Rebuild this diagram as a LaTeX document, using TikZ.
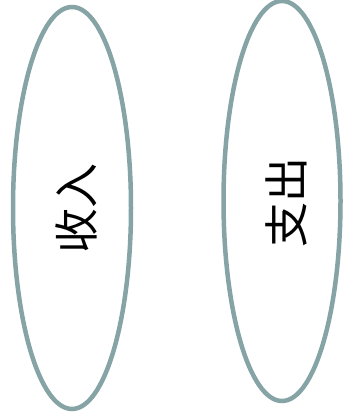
\documentclass[tikz,border=0pt]{standalone}
\usepackage{fontspec}
\newfontfamily\cjk{Noto Sans CJK SC}
\usetikzlibrary{shapes.geometric}
\definecolor{ovalgray}{HTML}{86A3A5}
\tikzset{
    oval/.style={ellipse, draw=ovalgray, line width=4.5pt, inner sep=0pt},
    sidetext/.style={rotate=90, inner sep=0pt, font=\cjk\fontsize{45pt}{48pt}\selectfont}
}
\begin{document}
\begin{tikzpicture}[x=1pt, y=1pt]
    \useasboundingbox (0, 0) rectangle (342, 414);
    % income and expense
    \node[oval, minimum width=118pt, minimum height=402pt] (income) at (72, 206) {};
    \node[oval, minimum width=117pt, minimum height=400pt] (expense) at (282, 213) {};
    \node[sidetext] (incometext) at ([xshift=4pt, yshift=-1pt]income.center) {收入};
    \node[sidetext] (expensetext) at ([xshift=4pt, yshift=-2pt]expense.center) {支出};
\end{tikzpicture}
\end{document}
